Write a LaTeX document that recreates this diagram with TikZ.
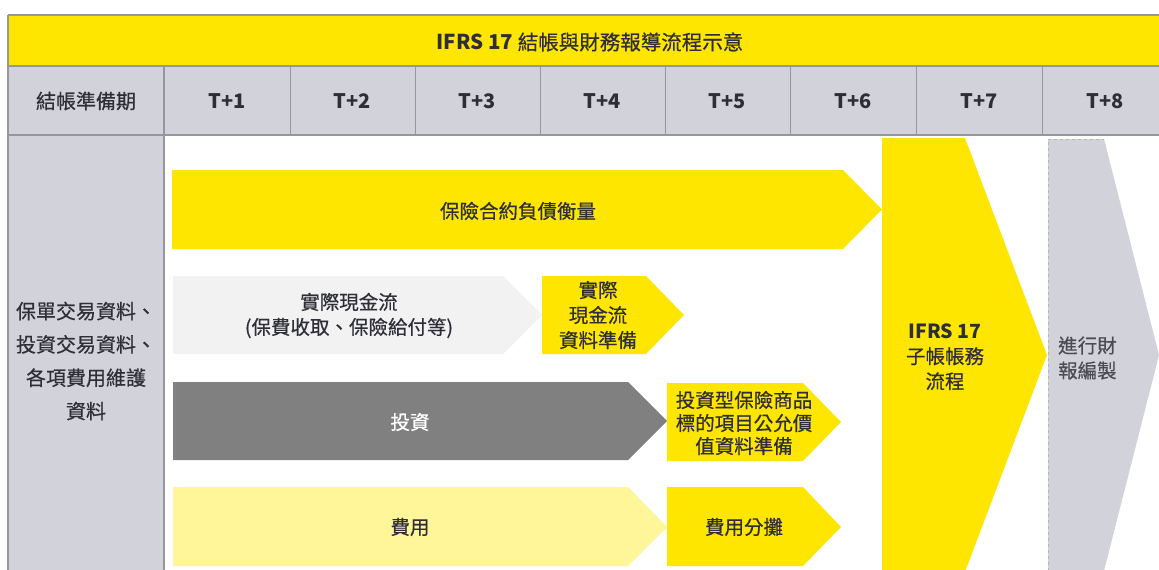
\documentclass[tikz,border=0pt]{standalone}
\usepackage{fontspec}
\setmainfont{Noto Sans CJK TC}[UprightFeatures={FakeBold=0.5}]
\definecolor{eyyellow}{RGB}{255,230,0}
\definecolor{panelgray}{RGB}{210,210,218}
\definecolor{linegray}{RGB}{150,150,156}
\definecolor{lightfill}{RGB}{242,242,242}
\definecolor{midgray}{RGB}{128,128,128}
\definecolor{paleyellow}{RGB}{255,245,153}
\definecolor{txt}{RGB}{46,46,56}
\definecolor{graytxt}{RGB}{75,75,82}
\begin{document}
\begin{tikzpicture}[x=1pt,y=-1pt,
  lbl/.style={inner sep=0pt, align=center, text=txt, font=\fontsize{19.5}{25}\selectfont},
  hdr/.style={inner sep=0pt, text=txt, font=\fontsize{20}{24}\selectfont\bfseries},
  rule/.style={draw=linegray, line width=#1},
  rule/.default=1pt]
\useasboundingbox (0,0) rectangle (1159,570);
\clip (0,0) rectangle (1159,570);
% backgrounds
\fill[white] (0,0) rectangle (1159,570);
\fill[eyyellow] (8,16) rectangle (1159,66);
\fill[panelgray] (8,66) rectangle (1159,135);
\fill[panelgray] (8,135) rectangle (164,570);
% table rules
\draw[rule=2pt] (8,15) -- (1159,15);
\draw[rule=1.5pt] (8,66) -- (1159,66);
\draw[rule=2.5pt] (8,135) -- (1159,135);
\draw[rule=2pt] (8,15) -- (8,570);
\draw[rule=2.5pt] (164,66) -- (164,570);
\foreach \xx in {290,415,540,665,790,916,1042} \draw[rule=1pt] (\xx,66) -- (\xx,135);
% title and header
\node[lbl, font=\fontsize{20.5}{24}\selectfont] (title) at (590,42) {\textbf{IFRS 17} 結帳與財務報導流程示意};
\node[lbl, font=\fontsize{20}{24}\selectfont] (prep) at (86,101) {結帳準備期};
\node[hdr] (t1) at (227,101) {T+1};
\node[hdr] (t2) at (352.5,101) {T+2};
\node[hdr] (t3) at (477.5,101) {T+3};
\node[hdr] (t4) at (602.5,101) {T+4};
\node[hdr] (t5) at (727.5,101) {T+5};
\node[hdr] (t6) at (853,101) {T+6};
\node[hdr] (t7) at (979,101) {T+7};
\node[hdr] (t8) at (1105,101) {T+8};
% left panel
\node[lbl, font=\fontsize{20}{33.3}\selectfont] (src) at (86,361) {保單交易資料、\\投資交易資料、\\各項費用維護\\資料};
% arrows
\fill[eyyellow] (172,170) -- (843,170) -- (882,209.5) -- (843,249) -- (172,249) -- cycle;
\fill[lightfill] (173,276) -- (503,276) -- (542,315) -- (503,354) -- (173,354) -- cycle;
\fill[eyyellow] (542,276) -- (646,276) -- (684,315) -- (646,354) -- (542,354) -- cycle;
\fill[midgray] (173,382) -- (628,382) -- (667,421) -- (628,460) -- (173,460) -- cycle;
\fill[eyyellow] (667,383) -- (803,383) -- (841,422) -- (803,461) -- (667,461) -- cycle;
\fill[paleyellow] (173,487) -- (628,487) -- (667,527) -- (628,566) -- (173,566) -- cycle;
\fill[eyyellow] (667,487) -- (803,487) -- (841,527) -- (803,566) -- (667,566) -- cycle;
\fill[eyyellow] (882,138) -- (965,138) -- (1047,355) -- (965,572) -- (882,572) -- cycle;
\fill[panelgray] (1048,139) -- (1104,139) -- (1159,355) -- (1104,571) -- (1048,571) -- cycle;
\draw[draw=linegray!70, line width=0.8pt, dashed] (1048,571) -- (1048,139) -- (1104,139);
% arrow labels
\node[lbl] (liab) at (518,211) {保險合約負債衡量};
\node[lbl] (cash) at (349,315.5) {實際現金流\\(保費收取、保險給付等)};
\node[lbl] (cashprep) at (598,315) {實際\\現金流\\資料準備};
\node[lbl, text=white] (inv) at (410,422) {投資};
\node[lbl, font=\fontsize{19.5}{23}\selectfont] (invprep) at (744,423) {投資型保險商品\\標的項目公允價\\值資料準備};
\node[lbl] (fee) at (410,527) {費用};
\node[lbl] (feealloc) at (744,527) {費用分攤};
\node[lbl] (sub) at (945,357) {\textbf{IFRS 17}\\子帳帳務\\流程};
\node[lbl, align=left, text=graytxt, anchor=west] (fin) at (1058,358) {進行財\\報編製};
\end{tikzpicture}
\end{document}
